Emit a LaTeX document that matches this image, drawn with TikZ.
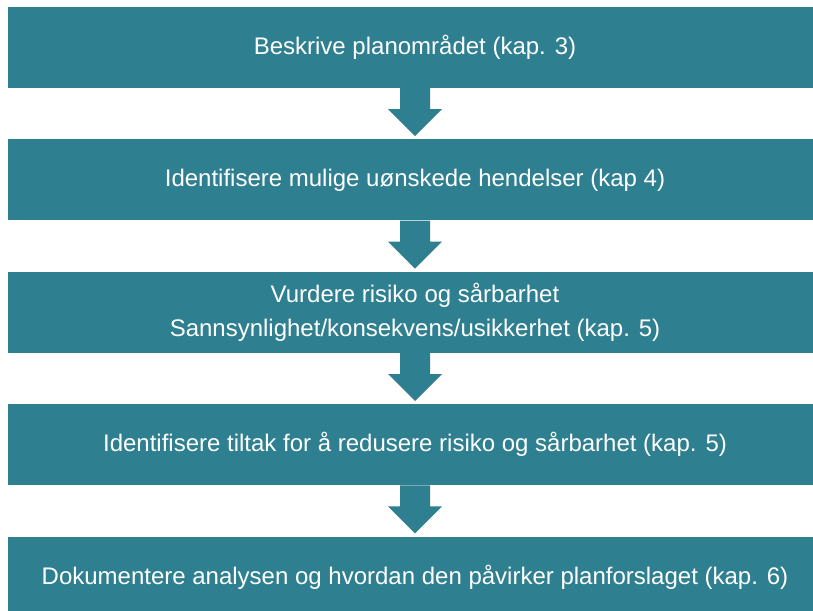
\documentclass[tikz,border=0pt]{standalone}
\usepackage{fontspec}
\setmainfont{Liberation Sans}
\usepackage{tikz}
\usetikzlibrary{positioning}
\definecolor{teal}{RGB}{46,127,143}

\begin{document}
\begin{tikzpicture}[x=1pt,y=-1pt,
  box/.style={rectangle,fill=teal,text=white,minimum width=814pt,minimum height=81pt,
    inner sep=0pt,align=center,font=\fontsize{24}{34}\selectfont},
  flowarrow/.style={fill=teal}]
  \useasboundingbox (0,0) rectangle (813,610);
  \clip (0,0) rectangle (813,610);
  \node [box] (describe) at (415,47.5) {Beskrive planområdet (kap. 3)};
  \node [box,below=51pt of describe] (identify) {Identifisere mulige uønskede hendelser (kap 4)};
  \node [box,below=51pt of identify] (assess) {Vurdere risiko og sårbarhet\\Sannsynlighet/konsekvens/usikkerhet (kap. 5)};
  \node [box,below=51pt of assess] (measures) {Identifisere tiltak for å redusere risiko og sårbarhet (kap. 5)};
  \node [box,below=51pt of measures] (document) {Dokumentere analysen og hvordan den påvirker planforslaget (kap. 6)};

  \foreach \a/\b in {describe/identify,identify/assess,assess/measures,measures/document}
    \fill [flowarrow] ([xshift=-15pt]\a.south) -- ++(0,21) -- ++(-12,0) -- ([yshift=3pt]\b.north)
      -- ++(27,-27) -- ++(-12,0) -- ++(0,-21) -- cycle;
\end{tikzpicture}
\end{document}
